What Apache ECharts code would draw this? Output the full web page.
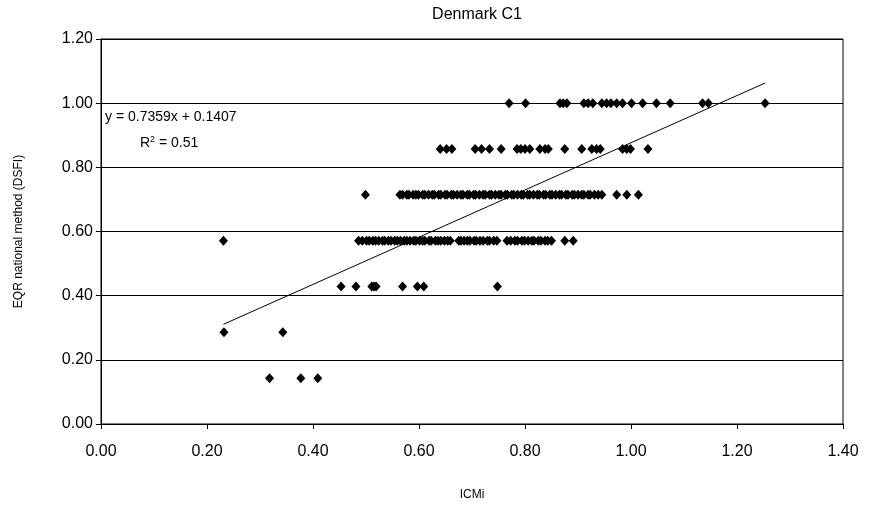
<!DOCTYPE html>
<html><head><meta charset="utf-8">
<script src="https://cdn.jsdelivr.net/npm/echarts@6/dist/echarts.min.js"></script>
<style>html,body{margin:0;padding:0;background:#fff}#c{width:869px;height:506px}</style>
</head><body><div id="c"></div>
<script>
// EQR levels (y) and ICMi values (x)
const yLevels = [0.1429, 0.2857, 0.4286, 0.5714, 0.7143, 0.8571, 1.0];
const xAt0143 = [0.318, 0.377, 0.409];
const xAt0286 = [0.232, 0.343];
const xAt0429 = [0.453, 0.481, 0.511, 0.515, 0.519, 0.569, 0.597, 0.609, 0.748];
const xAt0571 = [0.231, 0.486, 0.493, 0.501, 0.506, 0.513, 0.518, 0.524, 0.531, 0.535, 0.542, 0.547, 0.554, 0.559, 0.565, 0.572, 0.577, 0.583, 0.590, 0.594, 0.601, 0.607, 0.611, 0.619, 0.623, 0.631, 0.636, 0.641, 0.648, 0.654, 0.659, 0.675, 0.679, 0.685, 0.691, 0.696, 0.704, 0.708, 0.715, 0.721, 0.729, 0.733, 0.741, 0.747, 0.766, 0.773, 0.781, 0.786, 0.794, 0.799, 0.806, 0.813, 0.817, 0.825, 0.830, 0.838, 0.843, 0.850, 0.875, 0.891];
const xAt0714 = [0.499, 0.564, 0.569, 0.577, 0.581, 0.589, 0.594, 0.599, 0.607, 0.611, 0.618, 0.625, 0.629, 0.637, 0.641, 0.649, 0.653, 0.661, 0.665, 0.672, 0.679, 0.683, 0.691, 0.695, 0.703, 0.707, 0.714, 0.721, 0.725, 0.733, 0.737, 0.744, 0.751, 0.755, 0.763, 0.767, 0.775, 0.779, 0.786, 0.793, 0.797, 0.805, 0.809, 0.816, 0.823, 0.827, 0.835, 0.839, 0.847, 0.851, 0.858, 0.865, 0.869, 0.877, 0.881, 0.889, 0.893, 0.900, 0.907, 0.911, 0.919, 0.923, 0.931, 0.938, 0.945, 0.973, 0.992, 1.014];
const xAt0857 = [0.640, 0.652, 0.662, 0.706, 0.718, 0.733, 0.755, 0.785, 0.792, 0.800, 0.809, 0.828, 0.838, 0.844, 0.875, 0.907, 0.926, 0.935, 0.942, 0.984, 0.992, 0.999, 1.032];
const xAt1000 = [0.770, 0.801, 0.866, 0.872, 0.879, 0.911, 0.919, 0.928, 0.945, 0.954, 0.962, 0.973, 0.984, 1.001, 1.022, 1.048, 1.074, 1.135, 1.146, 1.253];
const fitSlope = 0.7359, fitIntercept = 0.1407;
const fitLabel = ['y = 0.7359x + 0.1407', 'R{s|2} = 0.51'];
const xTicks = [0, 0.2, 0.4, 0.6, 0.8, 1.0, 1.2, 1.4];
const yTicks = [0, 0.2, 0.4, 0.6, 0.8, 1.0, 1.2];

const rows = [xAt0143, xAt0286, xAt0429, xAt0571, xAt0714, xAt0857, xAt1000];
const pts = [];
rows.forEach((r, i) => r.forEach(x => pts.push([x, yLevels[i]])));
const allX = pts.map(p => p[0]);
const x0 = Math.min(...allX), x1 = Math.max(...allX);
const fit = [[x0, fitSlope * x0 + fitIntercept], [x1, fitSlope * x1 + fitIntercept]];

const F = 'Liberation Sans, Arial, sans-serif';
const chart = echarts.init(document.getElementById('c'));
chart.setOption({
  animation: false,
  backgroundColor: '#fff',
  title: { text: 'Denmark C1', left: 472, textAlign: 'center', top: 2,
    textStyle: { fontFamily: F, fontSize: 16, fontWeight: 'normal', color: '#000' } },
  grid: { left: 101, right: 26, top: 39, bottom: 77, show: true, borderColor: '#000', borderWidth: 1 },
  xAxis: { type: 'value', min: 0, max: 1.4, interval: 0.2,
    name: 'ICMi', nameLocation: 'middle', nameGap: 65,
    nameTextStyle: { fontFamily: F, fontSize: 12, color: '#000' },
    axisLine: { onZero: false, lineStyle: { color: '#000', width: 1 } },
    axisTick: { show: true, length: 5, lineStyle: { color: '#000' } },
    axisLabel: { fontFamily: F, fontSize: 16, color: '#000', margin: 20, formatter: v => v.toFixed(2) },
    splitLine: { show: false } },
  yAxis: { type: 'value', min: 0, max: 1.2, interval: 0.2,
    name: 'EQR national method (DSFI)', nameLocation: 'middle', nameGap: 76,
    nameTextStyle: { fontFamily: F, fontSize: 12, color: '#000' },
    axisLine: { show: true, onZero: false, lineStyle: { color: '#000', width: 1 } },
    axisTick: { show: true, length: 5, lineStyle: { color: '#000' } },
    axisLabel: { fontFamily: F, fontSize: 16, color: '#000', margin: 8, formatter: v => v.toFixed(2) },
    splitLine: { show: true, lineStyle: { color: '#000', width: 1 } } },
  series: [
    { type: 'scatter', data: pts, symbol: 'diamond', symbolSize: [9, 10],
      itemStyle: { color: '#000', opacity: 1 } },
    { type: 'line', data: fit, symbol: 'none', lineStyle: { color: '#000', width: 1 }, z: 3 }
  ],
  graphic: [
    { type: 'text', left: 105, top: 110, style: { text: fitLabel[0], font: '14px ' + F, fill: '#000' } },
    { type: 'text', left: 140, top: 135, style: { text: fitLabel[1], font: '14px ' + F, fill: '#000',
      rich: { s: { fontSize: 9, verticalAlign: 'top', padding: [0, 0, 8, 0], fontFamily: F } } } }
  ]
});
</script></body></html>
